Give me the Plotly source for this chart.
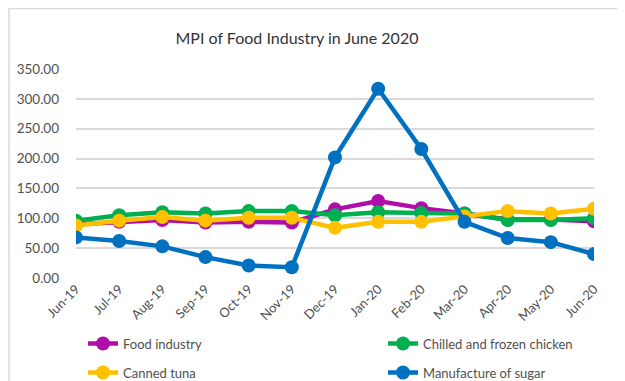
import plotly.graph_objects as go

months = ["Jun-19", "Jul-19", "Aug-19", "Sep-19", "Oct-19", "Nov-19", "Dec-19",
          "Jan-20", "Feb-20", "Mar-20", "Apr-20", "May-20", "Jun-20"]
food_industry = [90, 94, 97, 93, 94, 93, 115, 129, 117, 108, 98, 98, 95]
chilled_chicken = [96, 105, 110, 108, 112, 112, 105, 110, 109, 108, 97, 97, 100]
canned_tuna = [88, 96, 102, 96, 101, 101, 84, 94, 94, 103, 112, 108, 116]
sugar = [68, 62, 53, 35, 21, 18, 202, 317, 216, 94, 67, 60, 40]
y_ticks = [0, 50, 100, 150, 200, 250, 300, 350]

series = [
    ("Food industry", food_industry, "#B10DAA"),
    ("Chilled and frozen chicken", chilled_chicken, "#00AF50"),
    ("Canned tuna", canned_tuna, "#FFC000"),
    ("Manufacture of sugar", sugar, "#0070C0"),
]

FONT = "Lato"
TXT = "#505050"
OFF = 8  # page body margin offset
W, H = 625 - OFF, 381 - OFF
# plot area in window pixels: left 76, right 594, top 69.3, bottom 277.7
L = 76 - OFF
R = W - (594 - OFF)
T = 69.3 - OFF
B = H - (277.7 - OFF)
pw, ph = W - L - R, H - T - B


def px(x):
    """window x pixel -> paper coordinate"""
    return (x - OFF - L) / pw


def py(y):
    """window y pixel -> paper coordinate"""
    return (H - B - (y - OFF)) / ph


# legend slots (left x of item, row centre y) in window pixels
legend_pos = [(83, 343), (383, 343), (83, 372), (383, 372)]
legend_ids = ["legend", "legend2", "legend3", "legend4"]

fig = go.Figure()
for (name, vals, col), lid in zip(series, legend_ids):
    fig.add_trace(go.Scatter(
        x=list(range(len(months))), y=vals, name=name, mode="lines+markers",
        line=dict(color=col, width=4.5), marker=dict(color=col, size=14),
        legend=lid,
    ))

layout_legends = {}
for lid, (lx, ly) in zip(legend_ids, legend_pos):
    layout_legends[lid] = dict(
        x=px(lx), xanchor="left", y=py(ly), yanchor="middle",
        orientation="h", itemwidth=30,
        font=dict(family=FONT, size=13, color=TXT),
        bgcolor="rgba(0,0,0,0)", borderwidth=0,
    )

fig.update_layout(
    width=W, height=H,
    margin=dict(l=L, r=R, t=T, b=B, autoexpand=False),
    paper_bgcolor="white", plot_bgcolor="white",
    font=dict(family=FONT, size=13, color=TXT),
    title=dict(text="MPI of Food Industry in June 2020", x=(297 - OFF) / W, xanchor="center",
               y=1 - (38 - OFF) / H, yanchor="middle",
               font=dict(family=FONT, size=16, color="#333333")),
    xaxis=dict(range=[0, 12], tickmode="array", tickvals=list(range(len(months))),
               ticktext=months, tickangle=-45, showgrid=False, zeroline=False,
               showline=False, ticks="", tickfont=dict(size=13, color=TXT)),
    yaxis=dict(range=[0, 350], tickmode="array", tickvals=y_ticks,
               ticktext=[f"{v:.2f}" for v in y_ticks], showgrid=True,
               gridcolor="#D9D9D9", gridwidth=2, zeroline=False, showline=False,
               ticks="", ticklabelstandoff=16, tickfont=dict(size=13.5, color=TXT)),
    showlegend=True,
    shapes=[
        dict(type="line", xref="paper", yref="paper", x0=px(9), x1=px(640),
             y0=py(9), y1=py(9), line=dict(color="#D9D9D9", width=1.5)),
        dict(type="line", xref="paper", yref="paper", x0=px(9), x1=px(9),
             y0=py(9), y1=py(400), line=dict(color="#D9D9D9", width=1.5)),
    ],
    **layout_legends,
)

fig.write_html("out.html")
